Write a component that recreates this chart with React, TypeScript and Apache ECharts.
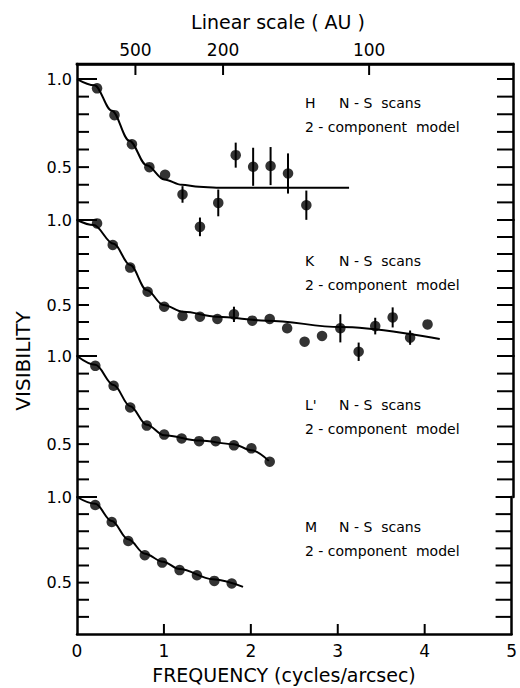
import React, { useEffect, useRef } from "react";
import * as echarts from "echarts";

const FONT = "DejaVu Sans";
const INK = "#000";

// Top axis: linear scale in AU = AU_PER_FREQ / spatial frequency
const AU_PER_FREQ = 335;
const AU_TICKS = [500, 200, 100];
const FREQ_TICKS = [0, 1, 2, 3, 4, 5];
const FREQ_INNER_TICKS = [1, 2, 3, 4];
const VIS_LABELS = [0.5, 1.0];
const VIS_TICKS = [0.3, 0.4, 0.5, 0.6, 0.7, 0.8, 0.9, 1.0];

// H band, N-S scans
const hFreq = [0.23, 0.43, 0.63, 0.83, 1.01, 1.21, 1.41, 1.62, 1.82, 2.02, 2.22, 2.42, 2.63];
const hVis = [0.947, 0.795, 0.63, 0.5, 0.457, 0.345, 0.161, 0.297, 0.568, 0.502, 0.506, 0.464, 0.284];
const hErr = [0, 0, 0, 0, 0, 0.047, 0.053, 0.076, 0.071, 0.108, 0.108, 0.114, 0.083];
const hModelFreq = [0, 0.2, 0.4, 0.6, 0.8, 1.0, 1.2, 1.4, 1.6, 3.12];
const hModelVis = [1.0, 0.965, 0.82, 0.65, 0.51, 0.43, 0.4, 0.388, 0.383, 0.383];

// K band, N-S scans
const kFreq = [0.23, 0.41, 0.61, 0.81, 1.0, 1.21, 1.41, 1.61, 1.8, 2.01, 2.21, 2.41, 2.61, 2.81, 3.02, 3.23, 3.42, 3.62, 3.82, 4.02];
const kVis = [0.98, 0.853, 0.72, 0.578, 0.49, 0.435, 0.431, 0.418, 0.445, 0.408, 0.418, 0.363, 0.284, 0.318, 0.363, 0.225, 0.376, 0.427, 0.308, 0.386];
const kErr = [0, 0, 0, 0, 0, 0, 0, 0, 0.045, 0, 0, 0, 0, 0, 0.083, 0.054, 0.049, 0.059, 0.042, 0];
const kModelFreq = [0, 0.19, 0.42, 0.61, 0.8, 0.99, 1.22, 1.6, 2.18, 3.02, 4.16];
const kModelVis = [1.0, 0.97, 0.86, 0.735, 0.588, 0.5, 0.46, 0.431, 0.408, 0.37, 0.3];

// L' band, N-S scans
const lFreq = [0.21, 0.42, 0.61, 0.8, 1.0, 1.2, 1.4, 1.59, 1.8, 2.0, 2.21];
const lVis = [0.944, 0.831, 0.708, 0.605, 0.554, 0.532, 0.517, 0.517, 0.493, 0.476, 0.4];
const lErr = [0, 0, 0, 0, 0, 0, 0, 0, 0, 0, 0];
const lModelFreq = [0, 0.21, 0.42, 0.61, 0.8, 1.0, 1.41, 1.79, 2.0, 2.2];
const lModelVis = [1.0, 0.95, 0.835, 0.715, 0.61, 0.55, 0.52, 0.5, 0.465, 0.405];

// M band, N-S scans
const mFreq = [0.21, 0.4, 0.59, 0.78, 0.98, 1.18, 1.38, 1.58, 1.78];
const mVis = [0.953, 0.854, 0.743, 0.66, 0.617, 0.573, 0.543, 0.51, 0.495];
const mErr = [0, 0, 0, 0, 0, 0, 0, 0, 0];
const mModelFreq = [0, 0.21, 0.4, 0.59, 0.78, 0.99, 1.18, 1.56, 1.91];
const mModelVis = [1.0, 0.96, 0.86, 0.753, 0.669, 0.622, 0.579, 0.52, 0.475];

const BANDS = ["H", "K", "L'", "M"];

const panels = [
  { band: BANDS[0], freq: hFreq, vis: hVis, err: hErr, mFreq: hModelFreq, mVis: hModelVis },
  { band: BANDS[1], freq: kFreq, vis: kVis, err: kErr, mFreq: kModelFreq, mVis: kModelVis },
  { band: BANDS[2], freq: lFreq, vis: lVis, err: lErr, mFreq: lModelFreq, mVis: lModelVis },
  { band: BANDS[3], freq: mFreq, vis: mVis, err: mErr, mFreq: mModelFreq, mVis: mModelVis },
];

// Stacked frames: each lower panel's 1.0 sits on the upper panel's 0.2
const layout = [
  { top: 64, height: 156, max: 1.0852, textY: 103 },
  { top: 220, height: 136, max: 1.0, textY: 261 },
  { top: 356, height: 141, max: 1.0, textY: 405 },
  { top: 497, height: 137, max: 1.0, textY: 527 },
];

const GRID_LEFT = 77;
const GRID_RIGHT = 7;
const FREQ_MIN = 0;
const FREQ_MAX = 5;

// tick lengths in pixels
const LEFT_TICK = 12;
const UNIT_TICK = 20;
const RIGHT_TICK = 16;
const TOP_TICK = 11;
const BOTTOM_TICK = 10;

function buildOption() {
  const grid: any[] = [];
  const xAxis: any[] = [];
  const yAxis: any[] = [];
  const series: any[] = [];
  const graphic: any[] = [];

  panels.forEach((p, i) => {
    const L = layout[i];
    const first = i === 0;
    const last = i === panels.length - 1;
    grid.push({ left: GRID_LEFT, right: GRID_RIGHT, top: L.top, height: L.height });

    xAxis.push({
      type: "value",
      gridIndex: i,
      position: "bottom",
      min: FREQ_MIN,
      max: FREQ_MAX,
      show: last,
      splitLine: { show: false },
      axisLine: { show: true, onZero: false, lineStyle: { color: INK, width: 2.5 } },
      axisTick: { show: false },
      axisLabel: {
        customValues: FREQ_TICKS,
        color: INK,
        fontFamily: FONT,
        fontSize: 17,
        margin: 8,
      },
    });

    // left axis with labels
    yAxis.push({
      type: "value",
      gridIndex: i,
      min: 0.2,
      max: L.max,
      position: "left",
      splitLine: { show: false },
      axisLine: { show: true, onZero: false, lineStyle: { color: INK, width: 2.5 } },
      axisTick: { show: false },
      axisLabel: {
        customValues: VIS_LABELS,
        formatter: (v: number) => v.toFixed(1),
        color: INK,
        fontFamily: FONT,
        fontSize: 16,
        margin: 5,
      },
    });
    // right frame
    yAxis.push({
      type: "value",
      gridIndex: i,
      min: 0.2,
      max: L.max,
      position: "right",
      splitLine: { show: false },
      axisLine: { show: true, onZero: false, lineStyle: { color: INK, width: 2.5 } },
      axisTick: { show: false },
      axisLabel: { show: false },
    });

    const yIdx = i * 2;

    // Frame ticks: [freq, vis, dx, dy, lineEndFreq]
    const frame: number[][] = [];
    VIS_TICKS.forEach((v) => {
      frame.push([FREQ_MIN, v, v === 1.0 ? UNIT_TICK : LEFT_TICK, 0, 0]);
      frame.push([FREQ_MAX, v, -RIGHT_TICK, 0, 0]);
    });
    if (first) {
      frame.push([FREQ_MIN, L.max, 0, 0, FREQ_MAX]);
      AU_TICKS.forEach((a) => frame.push([AU_PER_FREQ / a, L.max, 0, TOP_TICK, 0]));
    }
    if (last) {
      FREQ_INNER_TICKS.forEach((f) => frame.push([f, 0.2, 0, -BOTTOM_TICK, 0]));
    }
    series.push({
      type: "custom",
      xAxisIndex: i,
      yAxisIndex: yIdx,
      data: frame,
      encode: { x: 0, y: 1 },
      clip: false,
      silent: true,
      z: 5,
      renderItem: (params: any, api: any) => {
        const a = api.coord([api.value(0), api.value(1)]);
        const endFreq = api.value(4);
        if (endFreq > 0) {
          const b = api.coord([endFreq, api.value(1)]);
          return {
            type: "line",
            shape: { x1: a[0] - 1.25, y1: a[1], x2: b[0] + 1.25, y2: b[1] },
            style: { stroke: INK, lineWidth: 2.5 },
          };
        }
        return {
          type: "line",
          shape: { x1: a[0], y1: a[1], x2: a[0] + api.value(2), y2: a[1] + api.value(3) },
          style: { stroke: INK, lineWidth: 2 },
        };
      },
    });

    const errData = p.freq
      .map((f, k) => (p.err[k] > 0 ? [f, p.vis[k] - p.err[k], p.vis[k] + p.err[k]] : null))
      .filter((d) => d !== null);

    if (errData.length) {
      series.push({
        type: "custom",
        xAxisIndex: i,
        yAxisIndex: yIdx,
        data: errData,
        encode: { x: 0, y: [1, 2] },
        clip: false,
        renderItem: (params: any, api: any) => {
          const a = api.coord([api.value(0), api.value(1)]);
          const b = api.coord([api.value(0), api.value(2)]);
          return {
            type: "line",
            shape: { x1: a[0], y1: a[1], x2: b[0], y2: b[1] },
            style: { stroke: INK, lineWidth: 2 },
          };
        },
      });
    }

    series.push({
      type: "line",
      xAxisIndex: i,
      yAxisIndex: yIdx,
      data: p.mFreq.map((f, k) => [f, p.mVis[k]]),
      smooth: 0.35,
      smoothMonotone: "x",
      showSymbol: false,
      symbol: "none",
      lineStyle: { color: INK, width: 2 },
      clip: false,
      z: 3,
    });

    series.push({
      type: "scatter",
      xAxisIndex: i,
      yAxisIndex: yIdx,
      data: p.freq.map((f, k) => [f, p.vis[k]]),
      symbol: "circle",
      symbolSize: 10.5,
      itemStyle: { color: INK },
      clip: false,
      z: 4,
    });

    const textStyle = { fill: INK, fontFamily: FONT, fontSize: 14, verticalAlign: "middle", textVerticalAlign: "middle" };
    graphic.push(
      { type: "text", x: 305, y: L.textY, style: { ...textStyle, text: p.band } },
      { type: "text", x: 339, y: L.textY, style: { ...textStyle, text: "N - S  scans" } },
      { type: "text", x: 305, y: L.textY + 24, style: { ...textStyle, text: "2 - component  model" } }
    );
  });

  // top axis of the first frame: linear scale in AU (labels)
  xAxis.push({
    type: "value",
    gridIndex: 0,
    position: "top",
    min: FREQ_MIN,
    max: FREQ_MAX,
    splitLine: { show: false },
    axisLine: { show: true, onZero: false, lineStyle: { color: INK, width: 2.5 } },
    axisTick: { show: false },
    axisLabel: {
      customValues: AU_TICKS.map((a) => AU_PER_FREQ / a),
      formatter: (v: number) => String(Math.round(AU_PER_FREQ / v)),
      color: INK,
      fontFamily: FONT,
      fontSize: 17,
      margin: 6,
    },
  });

  const titleStyle = { fill: INK, fontFamily: FONT, align: "center", textAlign: "center", verticalAlign: "middle", textVerticalAlign: "middle" };
  graphic.push(
    { type: "text", x: 278, y: 22, style: { ...titleStyle, fontSize: 19, text: "Linear scale ( AU )" } },
    { type: "text", x: 284, y: 675, style: { ...titleStyle, fontSize: 19, text: "FREQUENCY (cycles/arcsec)" } },
    { type: "text", x: 23, y: 361, rotation: Math.PI / 2, style: { ...titleStyle, fontSize: 20, text: "VISIBILITY" } }
  );

  return {
    animation: false,
    backgroundColor: "#fff",
    grid,
    xAxis,
    yAxis,
    series,
    graphic,
  };
}

export default function App() {
  const ref = useRef<HTMLDivElement>(null);
  useEffect(() => {
    if (!ref.current) return;
    const chart = echarts.init(ref.current, undefined, { renderer: "svg" });
    chart.setOption(buildOption() as any);
    return () => chart.dispose();
  }, []);
  return (
    <div
      ref={ref}
      style={{ position: "fixed", left: 0, top: 0, width: 520, height: 688, background: "#fff" }}
    />
  );
}
